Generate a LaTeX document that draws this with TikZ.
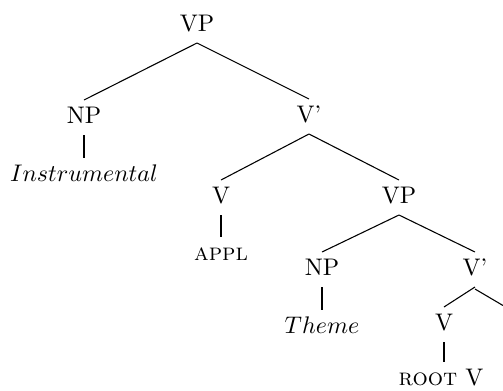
\documentclass[tikz,border=0pt]{standalone}
\usetikzlibrary{calc}
\begin{document}
\begin{tikzpicture}[x=0.4167pt,y=-0.4167pt,
  lbl/.style={inner sep=0pt,anchor=base},
  edge/.style={draw,line width=0.45pt}]
\useasboundingbox (0,0) rectangle (503,390);
% nodes (positions are baselines)
\node[lbl] (vp1) at (197,31) {VP};
\node[lbl] (np1) at (84,123) {NP};
\node[lbl] (vb1) at (309,122) {V'};
\node[lbl] (inst) at (84,181) {$Instrumental$};
\node[lbl] (v1) at (221,203) {V};
\node[lbl] (appl) at (221,260) {\textsc{appl}};
\node[lbl] (vp2) at (399,203) {VP};
\node[lbl] (np2) at (322,275) {NP};
\node[lbl] (theme) at (322,333) {$Theme$};
\node[lbl] (vb2) at (475,275) {V'};
\node[lbl] (v2) at (444,330) {V};
\node[lbl] (root) at (441,385) {\textsc{root} V};
\coordinate (cut) at (503,305.5);
% edges
\newcommand{\tedge}[2]{\draw[edge] ($(#1.base)+(0,12)$) -- ($(#2.base)+(0,-23)$);}
\tedge{vp1}{np1}
\tedge{vp1}{vb1}
\tedge{np1}{inst}
\tedge{vb1}{v1}
\tedge{vb1}{vp2}
\tedge{v1}{appl}
\tedge{vp2}{np2}
\tedge{vp2}{vb2}
\tedge{np2}{theme}
\tedge{vb2}{v2}
\draw[edge] ($(vb2.base)+(0,14)$) -- (cut);
\draw[edge] ($(v2.base)+(0,12)$) -- ($(v2.base |- root.base)+(0,-23)$);
\end{tikzpicture}
\end{document}
